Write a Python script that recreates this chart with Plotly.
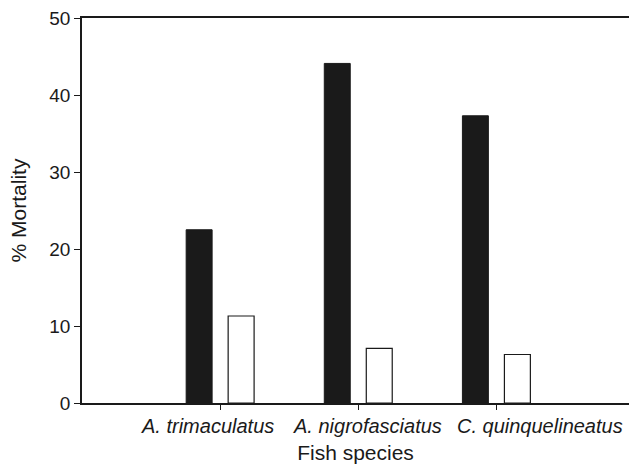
import plotly.graph_objects as go

species = ["A. trimaculatus", "A. nigrofasciatus", "C. quinquelineatus"]
positions = [1, 2, 3]
mortality_dark = [22.5, 44.1, 37.3]
mortality_light = [11.3, 7.1, 6.3]
y_ticks = [0, 10, 20, 30, 40, 50]

FONT = "Liberation Sans, Arial, sans-serif"
INK = "#1a1a1a"

# horizontal nudges of the category labels (they are set like a line of text in the original)
label_nudge = [-0.095, 0.067, 0.316]

fig = go.Figure()
fig.add_trace(go.Bar(x=positions, y=mortality_dark,
                     marker=dict(color=INK, line=dict(color=INK, width=1)),
                     showlegend=False))
fig.add_trace(go.Bar(x=positions, y=mortality_light,
                     marker=dict(color="white", line=dict(color=INK, width=1.2)),
                     showlegend=False))

for pos, name, dx in zip(positions, species, label_nudge):
    fig.add_annotation(x=pos + dx, xref="x", y=0, yref="paper",
                       yanchor="middle", xanchor="center", yshift=-23,
                       text=f"<i>{name}</i>", showarrow=False,
                       font=dict(size=20, family=FONT, color=INK))

fig.update_layout(
    width=629, height=467,
    margin=dict(l=82, r=0, t=18, b=64),
    paper_bgcolor="white", plot_bgcolor="white",
    barmode="group", bargap=0.392, bargroupgap=0.382,
    font=dict(family=FONT, color=INK, size=19),
)
fig.update_xaxes(
    range=[0, 3.96], tickmode="array", tickvals=positions,
    showticklabels=False,
    ticks="outside", ticklen=5, tickcolor=INK, tickwidth=1.2,
    showline=True, linecolor=INK, linewidth=1.5, mirror=True,
    showgrid=False, zeroline=False,
    title=dict(text="Fish species", font=dict(size=21), standoff=37),
)
fig.update_yaxes(
    range=[0, 50], tickmode="array", tickvals=y_ticks,
    ticks="outside", ticklen=6, tickcolor=INK, tickwidth=1.2,
    showline=True, linecolor=INK, linewidth=1.5,
    showgrid=False, zeroline=False,
    tickfont=dict(size=19),
    title=dict(text="% Mortality", font=dict(size=21), standoff=17),
)

fig.write_html("out.html")
